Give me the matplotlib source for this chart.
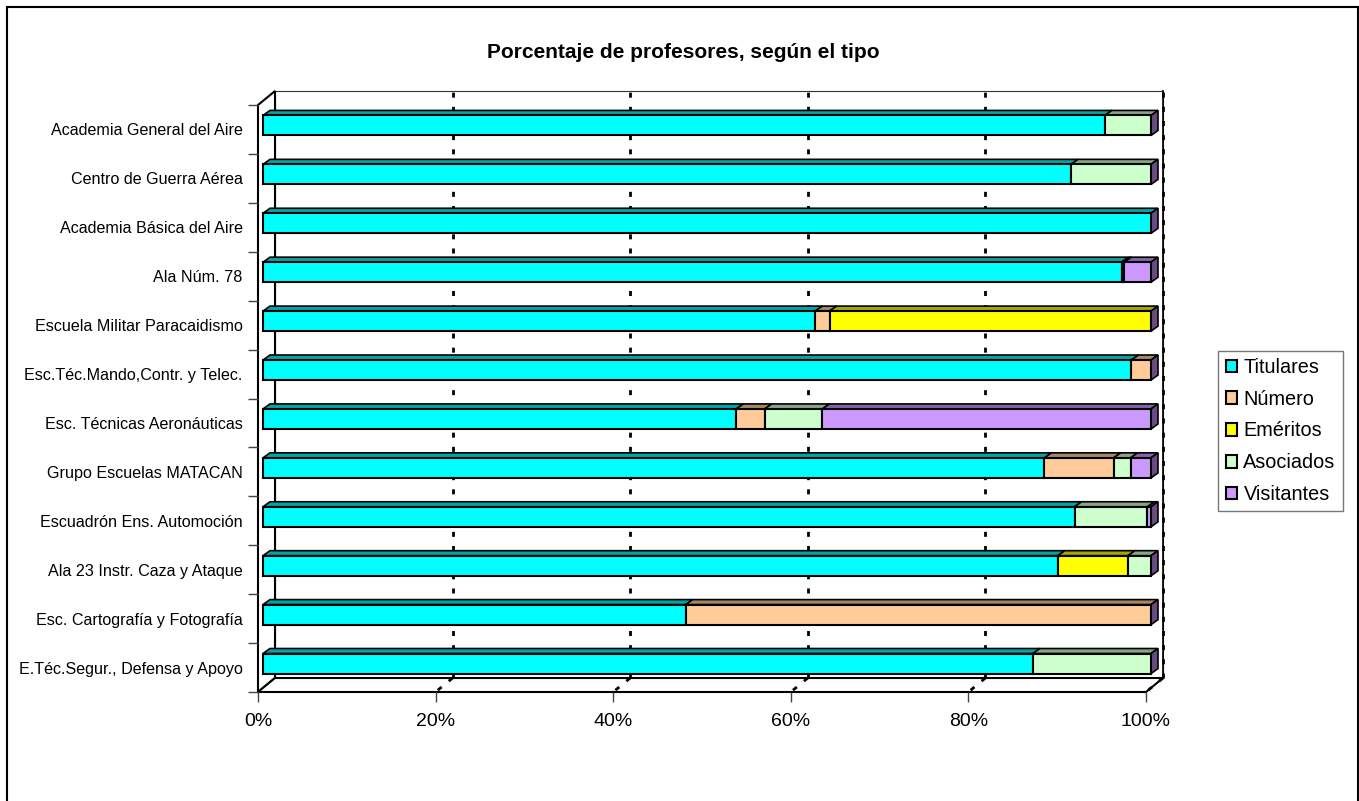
import matplotlib.pyplot as plt
import matplotlib.colors as mcolors
from matplotlib.patches import Polygon, Rectangle, Patch
import numpy as np

plt.rcParams['font.family'] = ['Liberation Sans', 'DejaVu Sans']

# Data (share of each type of teacher per centre)
categories = [
    'Academia General del Aire', 'Centro de Guerra Aérea', 'Academia Básica del Aire',
    'Ala Núm. 78', 'Escuela Militar Paracaidismo', 'Esc.Téc.Mando,Contr. y Telec.',
    'Esc. Técnicas Aeronáuticas', 'Grupo Escuelas MATACAN', 'Escuadrón Ens. Automoción',
    'Ala 23 Instr. Caza y Ataque', 'Esc. Cartografía y Fotografía', 'E.Téc.Segur., Defensa y Apoyo'
]
series_names = ['Titulares', 'Número', 'Eméritos', 'Asociados', 'Visitantes']
titulares = [0.948, 0.910, 1.000, 0.967, 0.622, 0.978, 0.533, 0.880, 0.914, 0.895, 0.476, 0.867]
numero = [0.000, 0.000, 0.000, 0.003, 0.016, 0.022, 0.032, 0.078, 0.000, 0.000, 0.524, 0.000]
emeritos = [0.000, 0.000, 0.000, 0.000, 0.362, 0.000, 0.000, 0.000, 0.000, 0.079, 0.000, 0.000]
asociados = [0.052, 0.090, 0.000, 0.000, 0.000, 0.000, 0.065, 0.019, 0.082, 0.026, 0.000, 0.133]
visitantes = [0.000, 0.000, 0.000, 0.030, 0.000, 0.000, 0.370, 0.023, 0.004, 0.000, 0.000, 0.000]
x_ticks = [0, 0.2, 0.4, 0.6, 0.8, 1.0]
x_labels = ['0%', '20%', '40%', '60%', '80%', '100%']

colors = ['#00FFFF', '#FFCC99', '#FFFF00', '#CCFFCC', '#CC99FF']
values = [titulares, numero, emeritos, asociados, visitantes]

W, H = 1359, 801
fig = plt.figure(figsize=(W / 100, H / 100), dpi=100)
ax = fig.add_axes([258 / W, (H - 692) / H, 888 / W, 587 / H])
n = len(categories)
ax.set_xlim(0, 1)
ax.set_ylim(n - 0.5, -0.5)
for s in ax.spines.values():
    s.set_visible(False)


def px(dx, dy):
    # pixel offset -> data offset
    inv = ax.transData.inverted()
    a = inv.transform((0, 0))
    b = inv.transform((dx, dy))
    return b - a


def darker(c, f):
    r, g, b = mcolors.to_rgb(c)
    return (r * f, g * f, b * f)


wx, wy = px(17, 14)   # wall depth
bx, by = px(5, 4)     # bar front face offset
dx, dy = px(7, 5)     # bar depth
ybot, ytop = n - 0.5, -0.5

# walls
ax.add_patch(Polygon([(wx, ybot + wy), (1 + wx, ybot + wy), (1 + wx, ytop + wy), (wx, ytop + wy)],
                     closed=True, facecolor='white', edgecolor='#333333', lw=0.8, clip_on=False, zorder=0))
ax.add_patch(Polygon([(0, ybot), (wx, ybot + wy), (wx, ytop + wy), (0, ytop)],
                     closed=True, facecolor='white', edgecolor='black', lw=1.5, clip_on=False, zorder=0.5))
ax.add_patch(Polygon([(0, ybot), (1, ybot), (1 + wx, ybot + wy), (wx, ybot + wy)],
                     closed=True, facecolor='white', edgecolor='black', lw=1.5, clip_on=False, zorder=0.5))

# gridlines on back wall and floor
for k in x_ticks[1:]:
    ax.plot([k + wx, k + wx], [ybot + wy, ytop + wy], color='black', lw=2,
            dashes=(1.8, 3.3), clip_on=False, zorder=1)
    ax.plot([k + wx, k], [ybot + wy, ybot], color='black', lw=2,
            dashes=(1.8, 3.3), clip_on=False, zorder=1)
ax.plot([1 + wx, 1 + wx], [ybot + wy, ytop + wy], color='black', lw=1.2, clip_on=False, zorder=1)

# bars
h = 0.41
for i in range(n):
    left = 0.0
    yc = i + by
    yt, yb = yc - h / 2, yc + h / 2
    for j in range(len(series_names)):
        w = values[j][i]
        if w <= 0:
            continue
        bars = ax.barh(yc, w, left=left + bx, height=h, color=colors[j], edgecolor='black',
                       lw=1.5, zorder=3)
        for b in bars:
            b.set_clip_on(False)
        top = [(left + bx, yt), (left + w + bx, yt), (left + w + bx + dx, yt + dy), (left + bx + dx, yt + dy)]
        ax.add_patch(Polygon(top, closed=True, facecolor=darker(colors[j], 0.65),
                             edgecolor='black', lw=1.2, clip_on=False, zorder=2.5))
        left += w
    side = [(left + bx, yt), (left + bx, yb), (left + bx + dx, yb + dy), (left + bx + dx, yt + dy)]
    ax.add_patch(Polygon(side, closed=True, facecolor=darker(colors[4], 0.5),
                         edgecolor='black', lw=1.2, clip_on=False, zorder=2.5))

# axes ticks
ax.set_xticks(x_ticks)
ax.set_xticklabels(x_labels, fontsize=14)
ax.tick_params(axis='x', length=7, width=1, color='#444444', pad=8)
ax.set_yticks(range(n))
ax.set_yticklabels(categories, fontsize=11.6)
ax.set_yticks(np.arange(-0.5, n, 1), minor=True)
ax.tick_params(axis='y', which='major', length=0, pad=11)
ax.tick_params(axis='y', which='minor', length=7, width=1, color='#444444')

# title
fig.text(683 / W, 1 - 52 / H, 'Porcentaje de profesores, según el tipo',
         ha='center', va='center', fontsize=15, fontweight='bold')

# legend
handles = [Patch(facecolor=c, edgecolor='black', lw=1.5) for c in colors]
fig.legend(handles, series_names, loc='center left', bbox_to_anchor=(1218 / W, 1 - 431 / H),
           fontsize=14.3, frameon=True, fancybox=False, edgecolor='#555555',
           handlelength=0.6, handleheight=0.6, handletextpad=0.3, labelspacing=0.64,
           borderpad=0.38, borderaxespad=0)

# outer border
fig.patches.append(Rectangle((7 / W, -0.02), 1351 / W, 1.02 - 7 / H, transform=fig.transFigure,
                             fill=False, edgecolor='black', lw=1.5))

fig.savefig('out.png', dpi=100)
